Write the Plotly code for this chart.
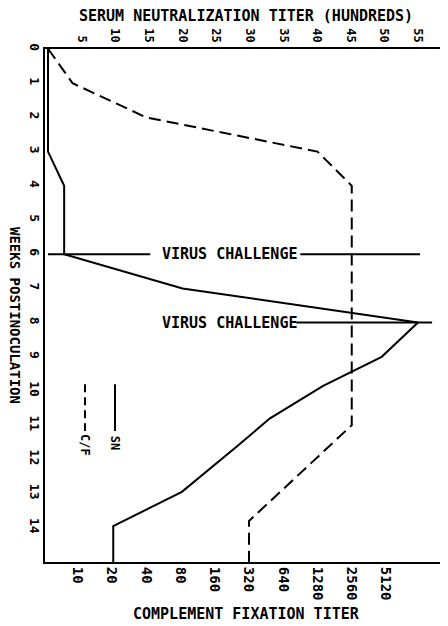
import plotly.graph_objects as go
import math

# ---- data ----
sn_weeks = [0, 3, 4, 6, 7, 8, 9, 9.85, 10.8, 11.6, 12.95, 13.95, 15]
sn_titer_hundreds = [0, 0, 2.4, 2.4, 20, 55, 49.6, 40.9, 33, 28.2, 19.9, 9.7, 9.7]

cf_weeks = [0, 1, 2, 3, 4, 11, 13.8, 15]
cf_titer = [5.5, 9, 40, 1280, 2560, 2560, 320, 320]

week_ticks = list(range(0, 15))
sn_ticks = [5, 10, 15, 20, 25, 30, 35, 40, 45, 50, 55]
cf_ticks = [10, 20, 40, 80, 160, 320, 640, 1280, 2560, 5120]

challenge_weeks = [6, 8]
challenge_label = "VIRUS CHALLENGE"

FONT = "DejaVu Sans Mono"
BOLD_FONT = dict(family=FONT, color="black", weight="bold")

fig = go.Figure()

fig.add_trace(go.Scatter(
    x=sn_titer_hundreds, y=sn_weeks, xaxis="x2", yaxis="y",
    mode="lines", line=dict(color="black", width=2), name="SN",
    showlegend=False))

fig.add_trace(go.Scatter(
    x=cf_titer, y=cf_weeks, xaxis="x", yaxis="y",
    mode="lines", line=dict(color="black", width=2, dash="12px,6px"),
    name="C/F", showlegend=False))

shapes = []
annotations = []

# virus challenge lines (week 6 has line on both sides of label, week 8 only right)
w6, w8 = challenge_weeks
shapes.append(dict(type="line", xref="x2", yref="y", x0=0, x1=15.2, y0=w6, y1=w6,
                   line=dict(color="black", width=2)))
shapes.append(dict(type="line", xref="x2", yref="y", x0=37.5, x1=55.3, y0=w6, y1=w6,
                   line=dict(color="black", width=2)))
shapes.append(dict(type="line", xref="x2", yref="y", x0=36.9, x1=57.1, y0=w8, y1=w8,
                   line=dict(color="black", width=2)))
for w in challenge_weeks:
    annotations.append(dict(x=16.6, y=w, xref="x2", yref="y", text=challenge_label,
                            showarrow=False, xanchor="left", yanchor="middle",
                            font=dict(size=15, **BOLD_FONT)))

# legend drawn as in the original (rotated)
shapes.append(dict(type="line", xref="x2", yref="y", x0=9.96, x1=9.96, y0=9.8, y1=11.17,
                   line=dict(color="black", width=2)))
shapes.append(dict(type="line", xref="x2", yref="y", x0=5.5, x1=5.5, y0=9.8, y1=11.17,
                   line=dict(color="black", width=2, dash="8px,5px")))
annotations.append(dict(x=9.96, y=11.25, xref="x2", yref="y", text="SN", textangle=90,
                        showarrow=False, xanchor="center", yanchor="top",
                        font=dict(size=12, **BOLD_FONT)))
annotations.append(dict(x=5.5, y=11.2, xref="x2", yref="y", text="C/F", textangle=90,
                        showarrow=False, xanchor="center", yanchor="top",
                        font=dict(size=12, **BOLD_FONT)))

# axis titles
annotations.append(dict(x=0.4988, y=1.0643, xref="paper", yref="paper",
                        text="SERUM NEUTRALIZATION TITER (HUNDREDS)", showarrow=False,
                        xanchor="center", yanchor="middle", font=dict(size=15, **BOLD_FONT)))
annotations.append(dict(x=0.4988, y=-0.1014, xref="paper", yref="paper",
                        text="COMPLEMENT FIXATION TITER", showarrow=False,
                        xanchor="center", yanchor="middle", font=dict(size=15, **BOLD_FONT)))
annotations.append(dict(x=-0.0744, y=0.4815, xref="paper", yref="paper",
                        text="WEEKS POSTINOCULATION", textangle=90, showarrow=False,
                        xanchor="center", yanchor="middle", font=dict(size=14, **BOLD_FONT)))

cf_left = math.log10(20) - (67 / 34.25) * math.log10(2)
cf_right = math.log10(20) + (336 / 34.25) * math.log10(2)

# page body has an 8px default margin, so the figure is 8px smaller each way
fig.update_layout(
    width=440, height=618,
    margin=dict(l=37, r=0, t=41, b=64, autoexpand=False),
    paper_bgcolor="white", plot_bgcolor="white",
    showlegend=False,
    xaxis=dict(type="log", range=[cf_left, cf_right], tickvals=cf_ticks,
               ticktext=[str(v) for v in cf_ticks], tickangle=90, automargin=False,
               showgrid=False, zeroline=False, showline=True, linecolor="black",
               linewidth=2, ticks="", ticklabelstandoff=0,
               tickfont=dict(size=14, **BOLD_FONT)),
    xaxis2=dict(overlaying="x", side="top", range=[-0.446, 59.46], automargin=False,
                tickvals=sn_ticks, tickangle=90, showgrid=False, zeroline=False,
                showline=True, linecolor="black", linewidth=2, ticks="",
                ticklabelstandoff=0, tickfont=dict(size=12, **BOLD_FONT)),
    yaxis=dict(range=[15, 0], tickvals=week_ticks, tickangle=90, automargin=False,
               showgrid=False, zeroline=False, showline=True, linecolor="black",
               linewidth=2, ticks="", ticklabelstandoff=-3,
               tickfont=dict(size=13, **BOLD_FONT)),
    shapes=shapes, annotations=annotations,
)

fig.write_html("out.html")
